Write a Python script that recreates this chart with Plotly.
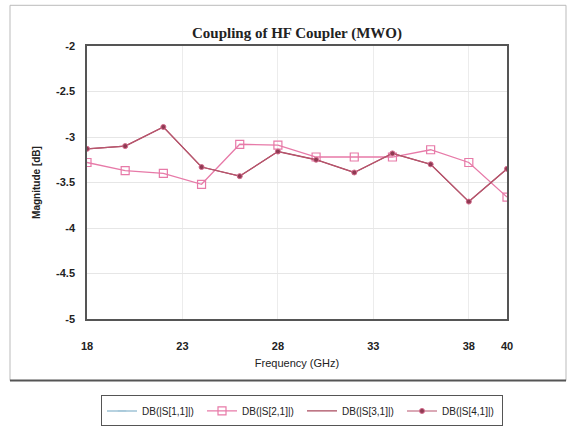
import plotly.graph_objects as go

freq = [18, 20, 22, 24, 26, 28, 30, 32, 34, 36, 38, 40]
s11 = [None] * 12  # off-scale (below -5 dB), not visible in the chart
s21 = [-3.28, -3.37, -3.40, -3.52, -3.08, -3.09, -3.22, -3.22, -3.22, -3.14, -3.28, -3.66]
s31 = [-3.13, -3.10, -2.89, -3.33, -3.43, -3.16, -3.25, -3.39, -3.18, -3.30, -3.71, -3.35]
s41 = [-3.13, -3.10, -2.89, -3.33, -3.43, -3.16, -3.25, -3.39, -3.18, -3.30, -3.71, -3.35]
xticks = [18, 23, 28, 33, 38, 40]
yticks = [-2, -2.5, -3, -3.5, -4, -4.5, -5]
ytick_text = ["-2", "-2.5", "-3", "-3.5", "-4", "-4.5", "-5"]

fig = go.Figure()
fig.add_trace(go.Scatter(x=freq, y=s11, name="DB(|S[1,1]|)", mode="lines+markers",
                         line=dict(color="#9fc3d6", width=1.5),
                         marker=dict(symbol="line-ew-open", size=6, color="#9fc3d6")))
fig.add_trace(go.Scatter(x=freq, y=s21, name="DB(|S[2,1]|)", mode="lines+markers",
                         line=dict(color="#e77aa8", width=1.3),
                         marker=dict(symbol="square-open", size=8, color="#e77aa8", line=dict(width=1.2))))
fig.add_trace(go.Scatter(x=freq, y=s31, name="DB(|S[3,1]|)", mode="lines",
                         line=dict(color="#a94a5e", width=1.3)))
fig.add_trace(go.Scatter(x=freq, y=s41, name="DB(|S[4,1]|)", mode="lines+markers",
                         line=dict(color="#b8556e", width=1.1),
                         marker=dict(symbol="circle", size=5, color="#8e3a52",
                                     line=dict(color="#d46a8c", width=1))))

fig.update_layout(
    width=568, height=438,
    margin=dict(l=87, r=61, t=46, b=117),
    paper_bgcolor="white", plot_bgcolor="white",
    title=dict(text="<b>Coupling of HF Coupler (MWO)</b>", x=297/568, xanchor="center",
               y=1 - 33/438, yanchor="middle",
               font=dict(family="Liberation Serif", size=15, color="#222")),
    showlegend=True,
    legend=dict(orientation="h", x=(302-87)/420, xanchor="center", y=(321-398)/275, yanchor="top",
                bordercolor="#555", borderwidth=1, bgcolor="white",
                font=dict(family="Liberation Sans", size=10, color="#222"),
                itemwidth=30, entrywidth=55, tracegroupgap=0),
    font=dict(family="Liberation Sans", color="#222"),
)
fig.update_xaxes(range=[18, 40], tickvals=xticks, ticktext=[str(t) for t in xticks],
                 tickfont=dict(size=11, family="Liberation Sans", weight="bold"),
                 ticks="", ticklabelstandoff=16,
                 showgrid=True, gridcolor="#ececec", gridwidth=1,
                 showline=True, linecolor="#555", linewidth=1.5, mirror=True, zeroline=False,
                 title=dict(text="Frequency (GHz)", standoff=8,
                            font=dict(size=11, family="Liberation Sans")))
fig.update_yaxes(range=[-5, -2], tickvals=yticks, ticktext=ytick_text,
                 tickfont=dict(size=11, family="Liberation Sans", weight="bold"),
                 ticks="", ticklabelstandoff=8,
                 showgrid=True, gridcolor="#e6e6e6", gridwidth=1,
                 showline=True, linecolor="#555", linewidth=1.5, mirror=True, zeroline=False,
                 title=dict(text="Magnitude [dB]", standoff=14,
                            font=dict(size=10, family="Liberation Sans", weight="bold")))

fig.add_shape(type="rect", xref="paper", yref="paper",
              x0=(10-87)/420, x1=(566-87)/420, y0=(321-383)/275, y1=(321-5)/275,
              line=dict(color="#bbbbbb", width=1), layer="below")
fig.add_shape(type="line", xref="paper", yref="paper",
              x0=(10-87)/420, x1=(566-87)/420, y0=(321-383)/275, y1=(321-383)/275,
              line=dict(color="#555", width=2))

fig.write_html("out.html")
